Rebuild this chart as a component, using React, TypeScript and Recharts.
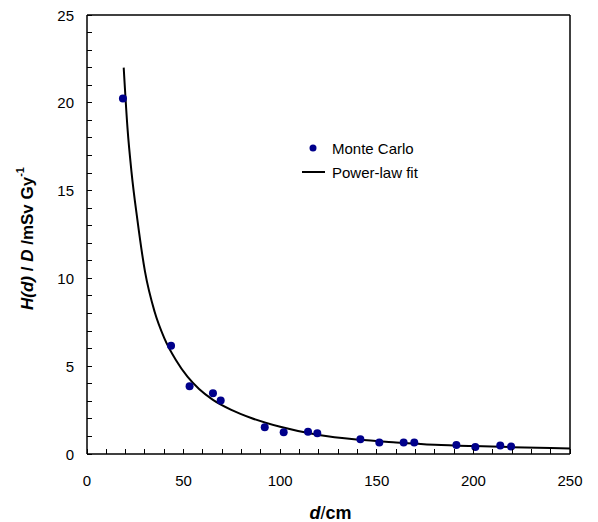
import React from 'react';
import { ComposedChart, Line, Scatter, XAxis, YAxis, ReferenceLine, Label } from 'recharts';

// Monte Carlo points
const mcDistance = [18.6, 43.5, 53.1, 65.2, 69.2, 92, 101.8, 114.4, 119.2, 141.5, 151.3, 163.9, 169.4, 191.2, 201, 213.9, 219.5];
const mcDose = [20.25, 6.16, 3.86, 3.46, 3.05, 1.52, 1.24, 1.26, 1.18, 0.84, 0.65, 0.65, 0.65, 0.51, 0.4, 0.48, 0.42];

// power-law fit curve, sampled off the figure
const fitDistance = [19, 21, 23, 26, 30, 35, 40, 46, 52, 58, 65, 75, 85, 100, 120, 140, 160, 180, 200, 220, 240, 250];
const fitDose = [22.0, 18.5, 16.1, 13.4, 10.4, 8.1, 6.6, 5.35, 4.4, 3.7, 3.1, 2.5, 2.05, 1.55, 1.08, 0.82, 0.66, 0.53, 0.45, 0.39, 0.34, 0.32];

const xTicks = [0, 10, 20, 30, 40, 50, 60, 70, 80, 90, 100, 110, 120, 130, 140, 150, 160, 170, 180, 190, 200, 210, 220, 230, 240, 250];
const yTicks = [0, 1, 2, 3, 4, 5, 6, 7, 8, 9, 10, 11, 12, 13, 14, 15, 16, 17, 18, 19, 20, 21, 22, 23, 24, 25];

const mcData = mcDistance.map((d, i) => ({ x: d, y: mcDose[i] }));
const fitData = fitDistance.map((d, i) => ({ x: d, y: fitDose[i] }));

const FONT = 'Arial, "Liberation Sans", Helvetica, sans-serif';

// ticks point inward, labels only on the major values
const renderXTick = (props: any) => {
  const { x, y, payload } = props;
  const v = payload.value;
  return (
    <g key={`xt-${v}`}>
      <path d={`M${x},${y}V${y - 5}`} stroke="#000" strokeWidth={1} fill="none" shapeRendering="crispEdges" />
      {v % 50 === 0 && (
        <text x={x} y={y + 26} textAnchor="middle" dominantBaseline="central" fontSize={15} fontFamily={FONT} fill="#000" stroke="none">
          {v}
        </text>
      )}
    </g>
  );
};

const renderYTick = (props: any) => {
  const { x, y, payload } = props;
  const v = payload.value;
  return (
    <g key={`yt-${v}`}>
      <path d={`M${x},${y}H${x + 5}`} stroke="#000" strokeWidth={1} fill="none" shapeRendering="crispEdges" />
      {v % 5 === 0 && (
        <text x={x - 13} y={y} textAnchor="end" dominantBaseline="central" fontSize={15} fontFamily={FONT} fill="#000" stroke="none">
          {v}
        </text>
      )}
    </g>
  );
};

const YTitle = (props: any) => {
  const { viewBox } = props;
  const cx = 27;
  const cy = viewBox.y + viewBox.height / 2 + 4;
  return (
    <text
      x={cx}
      y={cy}
      transform={`rotate(-90, ${cx}, ${cy})`}
      textAnchor="middle"
      dominantBaseline="central"
      fontSize={17}
      fontWeight="bold"
      fontFamily={FONT}
      fill="#000"
    >
      <tspan fontStyle="italic">H(d)</tspan>
      <tspan> / </tspan>
      <tspan fontStyle="italic">D</tspan>
      <tspan> /mSv Gy</tspan>
      <tspan fontSize={11} dy={-7}>-1</tspan>
    </text>
  );
};

const XTitle = (props: any) => {
  const { viewBox } = props;
  const cx = viewBox.x + viewBox.width / 2 + 2;
  return (
    <text x={cx} y={513} textAnchor="middle" dominantBaseline="central" fontSize={18} fontWeight="bold" fontFamily={FONT} fill="#000">
      <tspan fontStyle="italic">d</tspan>
      <tspan fontWeight="normal">/</tspan>
      <tspan>cm</tspan>
    </text>
  );
};

export default function App() {
  return (
    <div style={{ position: 'absolute', left: 0, top: 0, background: '#fff' }}>
      <ComposedChart width={598} height={522} margin={{ top: 15, right: 28, bottom: 0, left: 0 }}>
        <XAxis
          type="number"
          dataKey="x"
          domain={[0, 250]}
          ticks={xTicks}
          interval={0}
          height={68}
          tickSize={0}
          tickMargin={0}
          tickLine={false}
          tick={renderXTick}
          axisLine={{ stroke: '#000', strokeWidth: 1.5 }}
          allowDataOverflow
        >
          <Label content={<XTitle />} />
        </XAxis>
        <YAxis
          type="number"
          dataKey="y"
          domain={[0, 25]}
          ticks={yTicks}
          interval={0}
          width={87}
          tickSize={0}
          tickMargin={0}
          tickLine={false}
          tick={renderYTick}
          axisLine={{ stroke: '#000', strokeWidth: 1.5 }}
          allowDataOverflow
        >
          <Label content={<YTitle />} />
        </YAxis>
        <ReferenceLine y={25} stroke="#000" strokeWidth={1.5} />
        <ReferenceLine x={250} stroke="#000" strokeWidth={1.5} />
        <Line
          data={fitData}
          dataKey="y"
          type="monotone"
          stroke="#000"
          strokeWidth={2}
          dot={false}
          isAnimationActive={false}
        />
        <Scatter data={mcData} dataKey="y" fill="#00008b" shape={(p: any) => <circle cx={p.cx} cy={p.cy} r={4} fill="#00008b" />} isAnimationActive={false} />
      </ComposedChart>
      {/* legend */}
      <svg width={200} height={50} style={{ position: 'absolute', left: 295, top: 133 }}>
        <circle cx={18} cy={15} r={3.5} fill="#00008b" />
        <text x={37} y={15} dominantBaseline="central" fontSize={15} fontFamily={FONT} fill="#000">Monte Carlo</text>
        <line x1={7} y1={39} x2={30} y2={39} stroke="#000" strokeWidth={2} />
        <text x={37} y={39} dominantBaseline="central" fontSize={15} fontFamily={FONT} fill="#000">Power-law fit</text>
      </svg>
    </div>
  );
}
